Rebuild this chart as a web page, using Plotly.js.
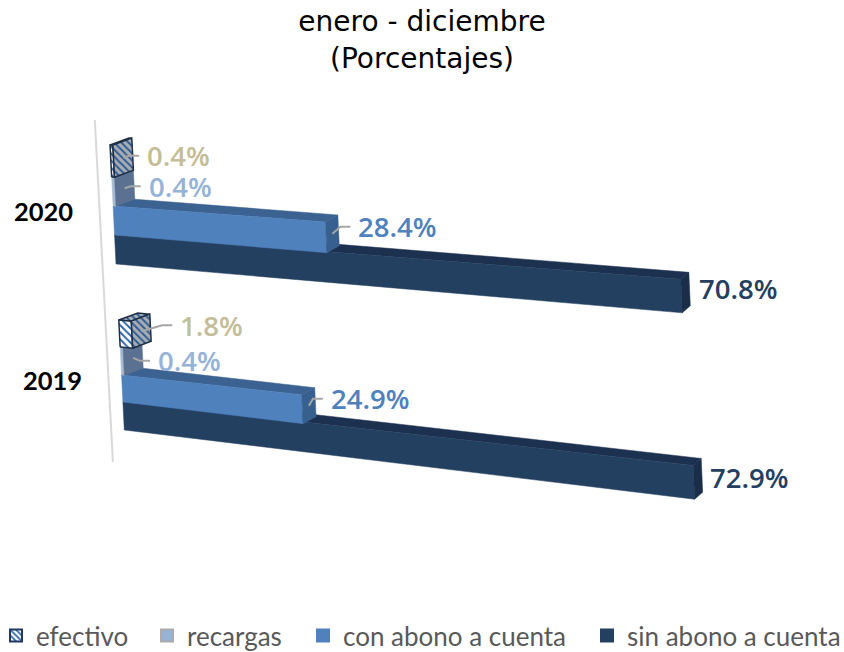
<!DOCTYPE html>
<html><head><meta charset="utf-8">
<script src="https://cdn.plot.ly/plotly-3.0.1.min.js"></script>
<style>html,body{margin:0;padding:0;background:#fff}#c{width:844px;height:652px}</style>
</head><body><div id="c"></div>
<script>
const years = ['2020', '2019'];
const seriesNames = ['sin abono a cuenta', 'con abono a cuenta', 'recargas', 'efectivo'];
const sinAbono = [70.8, 72.9];
const conAbono = [28.4, 24.9];
const recargas = [0.4, 0.4];
const efectivo = [0.4, 1.8];
const values = [sinAbono, conAbono, recargas, efectivo];

// Perspective projection of the tilted 3-D chart
const rowY = [[264, 235, 206, 177, 145], [430, 402, 375, 347, 320]];
const rowA = [7.13, 6.93], rowS = [0.69, 0.95], rowDS = [0.064, 0.08];
const xLeft = y => 116 + 0.05 * (y - 264);
function proj(r, s, v, back) {
  const yL = rowY[r][s];
  let x = xLeft(yL) + rowA[r] * v + 0.01226 * v * v;
  let y = yL + v * (rowS[r] - rowDS[r] * s);
  if (back) { x += 19 - 0.2864 * v + 0.001856 * v * v; y -= 7; }
  return [x, y];
}
const frontFill = ['#244061', '#4F81BD', '#A9BBD2', '#FFFFFF'];
const topFill = ['#1C3050', '#3B6290', '#6D84A3', '#A9ADB3'];
const endFill = ['#1A2E4A', '#38608F', '#5B7191', '#A9ADB3'];
const labelColor = ['#244061', '#4F81BD', '#95B3D7', '#C4BD97'];
const labelDx = [[13, 26, 24, 24], [12, 22, 25, 39]];
const labelDy = [[-4, -7, -2, -2], [-1, -7, 3, -6]];
const hasLeader = [false, true, true, true];

const traces = [];
function polyTrace(color, polys, s, pattern) {
  const xs = [], ys = [];
  polys.forEach(p => { p.forEach(q => { xs.push(q[0]); ys.push(q[1]); }); xs.push(xs[xs.length - p.length]); ys.push(ys[ys.length - p.length]); xs.push(null); ys.push(null); });
  const t = { type: 'scatter', mode: 'lines', x: xs, y: ys, fill: 'toself', fillcolor: color, hoverinfo: 'skip', showlegend: false,
    line: { color: s === 3 ? '#1F2F45' : color, width: s === 3 ? 1.5 : 0.5 } };
  if (pattern) t.fillpattern = pattern;
  return t;
}
const annotations = [];
const lx = [], ly = [];
values.forEach((vals, s) => {
  const front = [], top = [], end = [];
  vals.forEach((v, r) => {
    front.push([proj(r, s, 0, 0), proj(r, s, v, 0), proj(r, s + 1, v, 0), proj(r, s + 1, 0, 0)]);
    top.push([proj(r, s + 1, 0, 0), proj(r, s + 1, v, 0), proj(r, s + 1, v, 1), proj(r, s + 1, 0, 1)]);
    end.push([proj(r, s, v, 0), proj(r, s, v, 1), proj(r, s + 1, v, 1), proj(r, s + 1, v, 0)]);
  });
  const frontPat = s === 3 ? { shape: '\\', fgcolor: '#2E65A8', bgcolor: '#FFFFFF', size: 5, solidity: 0.4 } : null;
  const sidePat = s === 3 ? { shape: '\\', fgcolor: '#2E5C94', bgcolor: '#A9ADB3', size: 5, solidity: 0.4 } : null;
  traces.push(polyTrace(topFill[s], top, s, sidePat));
  traces.push(polyTrace(frontFill[s], front, s, frontPat));
  traces.push(polyTrace(endFill[s], end, s, sidePat));
  vals.forEach((v, r) => {
    const a = proj(r, s, v, 0), b = proj(r, s + 1, v, 1);
    const cx = (a[0] + b[0]) / 2, cy = (a[1] + b[1]) / 2;
    const tx = cx + labelDx[r][s], ty = cy + labelDy[r][s];
    annotations.push({ x: tx, y: ty, xref: 'x', yref: 'y', text: v.toFixed(1) + '%', showarrow: false, xanchor: 'left', yanchor: 'middle', xshift: -2,
      font: { family: 'Open Sans', size: 27.5, weight: 600, color: labelColor[s] } });
    if (hasLeader[s]) { lx.push(cx, tx - 18, tx - 8, null); ly.push(cy, ty, ty, null); }
  });
});
// leader lines
traces.push({ type: 'scatter', mode: 'lines', x: lx, y: ly, hoverinfo: 'skip', showlegend: false, line: { color: '#A6A6A6', width: 2 } });
// wall of the chart: follows the projected zero line
const wallTopY = 120, wallBotY = 462;
traces.unshift({ type: 'scatter', mode: 'lines', x: [xLeft(wallTopY) - 14, xLeft(wallBotY) - 13], y: [wallTopY, wallBotY], hoverinfo: 'skip', showlegend: false, line: { color: '#D9D9D9', width: 2 } });

years.forEach((yr, r) => {
  annotations.push({ x: [75, 84][r], y: [211, 380][r], xref: 'x', yref: 'y', text: '<b>' + yr + '</b>', showarrow: false, xanchor: 'right', yanchor: 'middle',
    font: { family: 'Lato', size: 25.5, color: '#000000' } });
});

// legend entries, each in its own legend so that it can sit at its own place
const legendOrder = [3, 2, 1, 0];
const legendIds = ['legend', 'legend2', 'legend3', 'legend4'];
const legendX = [-4, 147, 303, 587];
const legendLine = ['#244061', '#4F81BD', '#ABABAB', '#1F3864'];
const legendFill = ['#244061', '#4F81BD', '#95B3D7', '#FFFFFF'];
const layout = {
  width: 844, height: 652, margin: { l: 0, r: 0, t: 0, b: 0, autoexpand: false }, paper_bgcolor: '#fff', plot_bgcolor: '#fff',
  title: { text: 'enero - diciembre<br>(Porcentajes)', x: 0.5, xanchor: 'center', y: 0.952, yanchor: 'top', font: { family: 'DejaVu Sans', size: 28, color: '#000000' } },
  xaxis: { range: [0, 844], visible: false, fixedrange: true },
  yaxis: { range: [652, 0], visible: false, fixedrange: true },
  showlegend: true,
  annotations: annotations
};
legendOrder.forEach((s, i) => {
  const m = { color: legendFill[s], line: { color: legendLine[s], width: 2 } };
  if (s === 3) m.pattern = { shape: '\\', fgcolor: '#2E65A8', bgcolor: '#FFFFFF', size: 5, solidity: 0.45 };
  traces.push({ type: 'bar', orientation: 'h', name: seriesNames[s], x: [null], y: [null], marker: m, hoverinfo: 'skip', legend: i ? 'legend' + (i + 1) : 'legend' });
  layout[legendIds[i]] = { orientation: 'h', x: legendX[i] / 844, xanchor: 'left', y: 1 - 635.5 / 652, yanchor: 'middle', font: { family: 'Lato', size: 26, color: '#595959' }, bgcolor: 'rgba(0,0,0,0)' };
});
Plotly.newPlot('c', traces, layout, { displayModeBar: false, staticPlot: true });
</script></body></html>
